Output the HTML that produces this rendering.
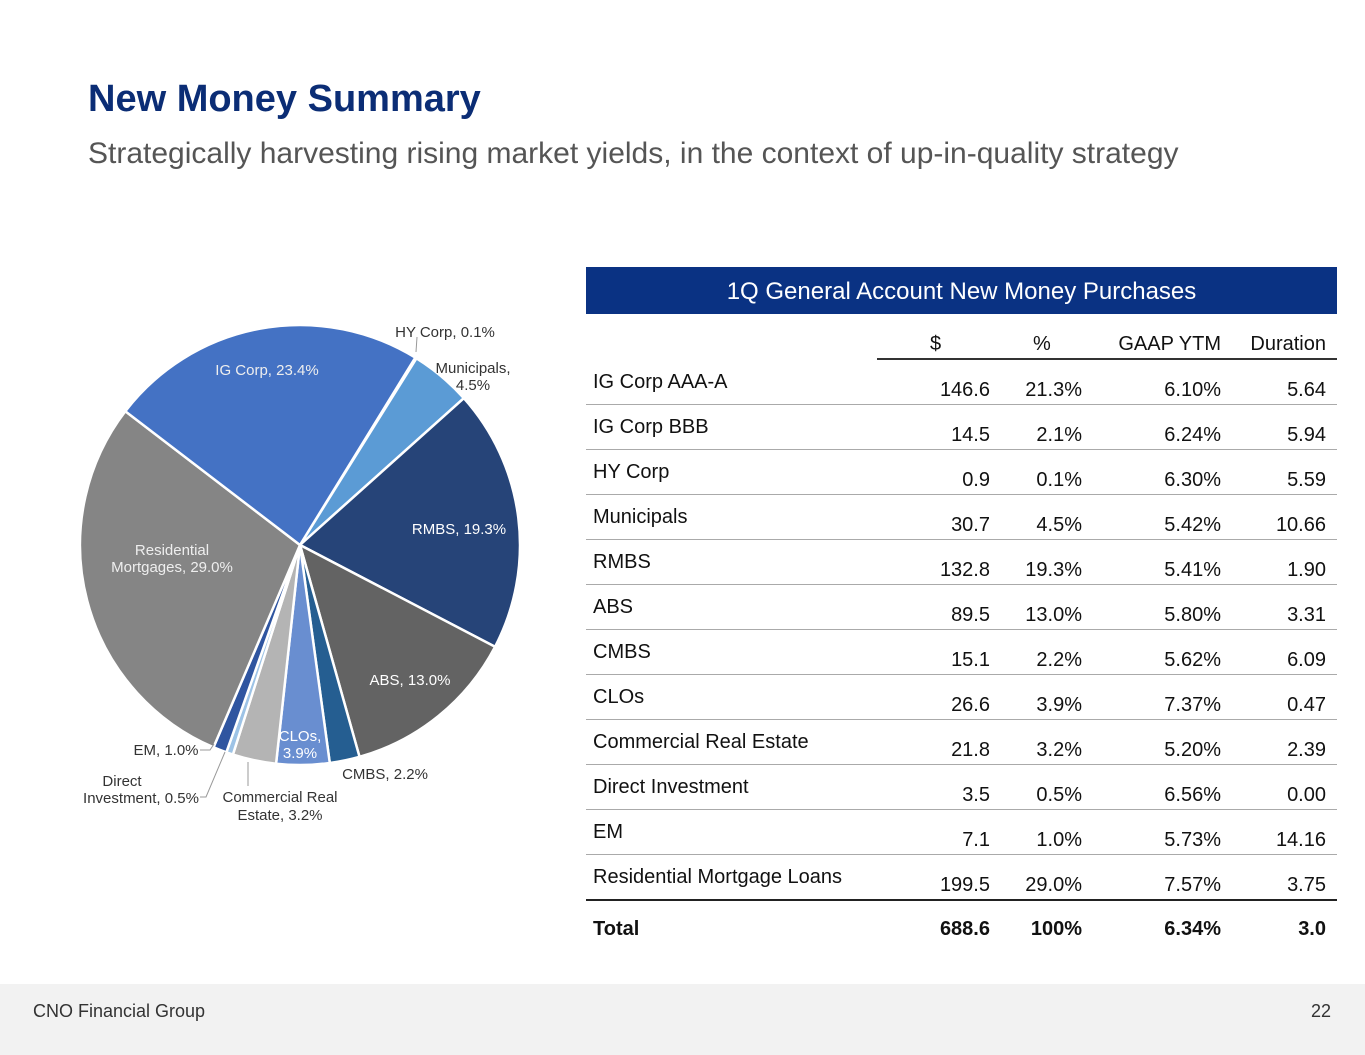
<!DOCTYPE html>
<html><head><meta charset="utf-8">
<style>
body{margin:0;width:1365px;height:1055px;position:relative;background:#fff;font-family:"Liberation Sans",Arial,sans-serif;overflow:hidden}
.abs{position:absolute;white-space:nowrap}
.n{font-family:"Liberation Sans Narrow","Liberation Sans",sans-serif;font-size:20px;color:#111}
.r{text-align:right}
.line{position:absolute;left:586px;width:751px;height:1px;background:#aaa}
</style></head><body>
<div class="abs" style="left:88px;top:78px;font-size:38px;font-weight:bold;color:#0B2D75">New Money Summary</div>
<div class="abs" style="left:88px;top:137px;font-size:30px;color:#555">Strategically harvesting rising market yields, in the context of up-in-quality strategy</div>

<svg id="pie" width="560" height="560" style="position:absolute;left:60px;top:300px" viewBox="60 300 560 560"></svg>

<div class="abs" style="left:586px;top:267px;width:751px;height:47px;background:#0A3283;color:#fff;font-size:24px;text-align:center;line-height:49px">1Q General Account New Money Purchases</div>
<div id="table"></div>

<div class="abs" style="left:0;top:984px;width:1365px;height:71px;background:#f2f2f2"></div>
<div class="abs" style="left:33px;top:1001px;font-size:18px;color:#333">CNO Financial Group</div>
<div class="abs" style="right:34px;top:1001px;font-size:18px;color:#333">22</div>

<script>
const sliceNames=["HY Corp","Municipals","RMBS","ABS","CMBS","CLOs","Commercial Real Estate","Direct Investment","EM","Residential Mortgages","IG Corp"];
const sliceValues=[0.1,4.5,19.3,13.0,2.2,3.9,3.2,0.5,1.0,29.0,23.4];
const sliceColors=["#4472C4","#5B9BD5","#264478","#636363","#255E91","#698ED0","#B4B4B4","#9DC3E6","#2F55A0","#858585","#4472C4"];

const rowNames=["IG Corp AAA-A","IG Corp BBB","HY Corp","Municipals","RMBS","ABS","CMBS","CLOs","Commercial Real Estate","Direct Investment","EM","Residential Mortgage Loans"];
const rowDollars=["146.6","14.5","0.9","30.7","132.8","89.5","15.1","26.6","21.8","3.5","7.1","199.5"];
const rowPct=["21.3%","2.1%","0.1%","4.5%","19.3%","13.0%","2.2%","3.9%","3.2%","0.5%","1.0%","29.0%"];
const rowYtm=["6.10%","6.24%","6.30%","5.42%","5.41%","5.80%","5.62%","7.37%","5.20%","6.56%","5.73%","7.57%"];
const rowDur=["5.64","5.94","5.59","10.66","1.90","3.31","6.09","0.47","2.39","0.00","14.16","3.75"];
const totals=["688.6","100%","6.34%","3.0"];

const NS="http://www.w3.org/2000/svg";
const svg=document.getElementById('pie');
const cx=300,cy=545,R=220,start=31.6;
const tot=sliceValues.reduce((a,b)=>a+b,0);
function pt(a,r){const t=(a-90)*Math.PI/180;return [cx+r*Math.cos(t),cy+r*Math.sin(t)];}
let a=start;
sliceValues.forEach((v,i)=>{
  const sw=v/tot*360;const p1=pt(a,R),p2=pt(a+sw,R);
  const p=document.createElementNS(NS,'path');
  p.setAttribute('d',`M${cx},${cy}L${p1[0]},${p1[1]}A${R},${R} 0 ${sw>180?1:0} 1 ${p2[0]},${p2[1]}Z`);
  p.setAttribute('fill',sliceColors[i]);p.setAttribute('stroke','#fff');p.setAttribute('stroke-width','2.5');
  
  
  svg.appendChild(p);a+=sw;
});
const labels=[
 [445,337,"HY Corp, 0.1%","#333","middle"],[473,373,"Municipals,","#333","middle"],[473,390,"4.5%","#333","middle"],
 [459,534,"RMBS, 19.3%","#fff","middle"],[410,685,"ABS, 13.0%","#fff","middle"],[385,779,"CMBS, 2.2%","#333","middle"],
 [300,741,"CLOs,","#fff","middle"],[300,758,"3.9%","#fff","middle"],[280,802,"Commercial Real","#333","middle"],[280,820,"Estate, 3.2%","#333","middle"],
 [122,786,"Direct","#333","middle"],[141,803,"Investment, 0.5%","#333","middle"],[166,755,"EM, 1.0%","#333","middle"],
 [172,555,"Residential","#eee","middle"],[172,572,"Mortgages, 29.0%","#eee","middle"],[267,375,"IG Corp, 23.4%","#eee","middle"]];
labels.forEach(l=>{const t=document.createElementNS(NS,'text');t.setAttribute('x',l[0]);t.setAttribute('y',l[1]);t.setAttribute('fill',l[3]);t.setAttribute('text-anchor',l[4]);t.setAttribute('font-size','15');t.setAttribute('font-family','Liberation Sans, sans-serif');t.textContent=l[2];


svg.appendChild(t);});
[["M417,337L416,352"],["M200,750L210,750L214,744"],["M200,797L206,797L225,752"],["M248,762L248,786"]].forEach(d=>{const p=document.createElementNS(NS,'path');p.setAttribute('d',d[0]);p.setAttribute('stroke','#999');p.setAttribute('fill','none');


svg.appendChild(p);});

const tb=document.getElementById('table');let h='';
h+='<div class="abs n" style="left:930px;top:333px">$</div>';
h+='<div class="abs n" style="left:1033px;top:333px">%</div>';
h+='<div class="abs n r" style="right:144px;top:333px">GAAP YTM</div>';
h+='<div class="abs n r" style="right:39px;top:333px">Duration</div>';
h+='<div class="abs" style="left:877px;top:358px;width:460px;height:2px;background:#333"></div>';
rowNames.forEach((n,i)=>{const y=359+i*45;
 h+=`<div class="abs n" style="left:593px;top:${y+12}px">${n}</div>`;
 h+=`<div class="abs n r" style="right:375px;top:${y+20}px">${rowDollars[i]}</div>`;
 h+=`<div class="abs n r" style="right:283px;top:${y+20}px">${rowPct[i]}</div>`;
 h+=`<div class="abs n r" style="right:144px;top:${y+20}px">${rowYtm[i]}</div>`;
 h+=`<div class="abs n r" style="right:39px;top:${y+20}px">${rowDur[i]}</div>`;
 h+=`<div class="line" style="top:${y+45}px;${i==11?'height:2px;background:#222':''}"></div>`;
});
const ty=918;
h+=`<div class="abs n" style="left:593px;top:${ty}px;font-weight:bold">Total</div>`;
const rights=[375,283,144,39];
totals.forEach((t,i)=>{h+=`<div class="abs n r" style="right:${rights[i]}px;top:${ty}px;font-weight:bold">${t}</div>`;});
tb.innerHTML=h;
</script>
</body></html>
